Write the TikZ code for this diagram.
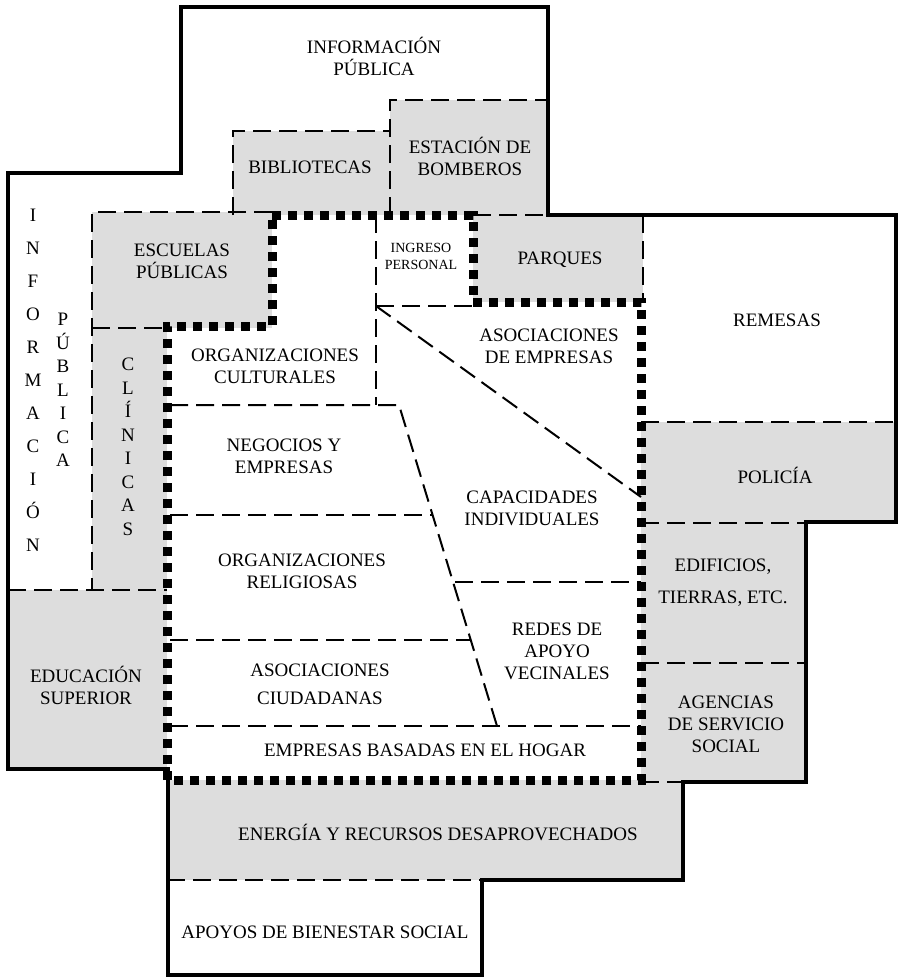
\documentclass[tikz,border=0pt]{standalone}
\usepackage{fontspec}
\setmainfont{Liberation Serif}
\usepackage{tikz}
\definecolor{zonegray}{RGB}{221,221,221}

\begin{document}
\begin{tikzpicture}[x=0.5pt,y=-0.5pt,
    outline/.style={line width=2pt},
    sep/.style={line width=1pt,dash pattern=on 9pt off 4pt},
    core/.style={line width=4.5pt,dash pattern=on 4.5pt off 3.5pt},
    zone/.style={fill=zonegray},
    lbl/.style={font=\fontsize{9.5}{11}\selectfont,align=center,inner sep=0pt},
    vlbl/.style={align=center,inner sep=0pt}]
    \useasboundingbox (0,0) rectangle (898,979);

    % 灰色区域
    \fill[zone] (233,131) rectangle (390,215);
    \fill[zone] (390,100) rectangle (548,215);
    \fill[zone] (92,212) rectangle (272,328);
    \fill[zone] (92,328) rectangle (167,590);
    \fill[zone] (8,590) rectangle (167,769);
    \fill[zone] (473,215) rectangle (643,302);
    \fill[zone] (641,422) rectangle (896,523);
    \fill[zone] (641,523) rectangle (806,782);
    \fill[zone] (167,780) rectangle (683,880);

    % 虚线分隔
    \draw[sep] (233,215) -- (233,131) -- (390,131);
    \draw[sep] (390,215) -- (390,100) -- (548,100);
    \draw[sep] (272,212) -- (92,212) -- (92,590);
    \draw[sep] (92,328) -- (167,328);
    \draw[sep] (8,590) -- (167,590);
    \draw[sep] (376,215) -- (376,405);
    \draw[sep] (376,306) -- (473,306);
    \draw[sep] (473,215) -- (548,215);
    \draw[sep] (643,215) -- (643,302);
    \draw[sep] (641,422) -- (896,422);
    \draw[sep] (641,523) -- (806,523);
    \draw[sep] (641,663) -- (806,663);
    \draw[sep] (641,782) -- (683,782);
    \draw[sep] (167,880) -- (482,880);
    \draw[sep] (170,405) -- (399,405) -- (497,726);
    \draw[sep] (170,515) -- (433,515);
    \draw[sep] (170,640) -- (471,640);
    \draw[sep] (455,582) -- (641,582);
    \draw[sep] (170,726) -- (641,726);
    \draw[sep] (376,306) -- (641,497);

    % 核心边界与外框
    \draw[core] (272,215) -- (473,215) -- (473,302) -- (641,302) -- (641,780)
        -- (167,780) -- (167,326) -- (272,326) -- cycle;
    \draw[outline] (181,7) -- (548,7) -- (548,215) -- (896,215) -- (896,522)
        -- (806,522) -- (806,782) -- (683,782) -- (683,880) -- (482,880)
        -- (482,975) -- (168,975) -- (168,769) -- (8,769) -- (8,173)
        -- (181,173) -- cycle;

    \node[lbl] (infoTop) at (374,56) {INFORMACIÓN\\PÚBLICA};
    \node[lbl] (biblio) at (310,167) {BIBLIOTECAS};
    \node[lbl] (bomberos) at (470,156) {ESTACIÓN DE\\BOMBEROS};
    \node[lbl] (escuelas) at (182,261) {ESCUELAS\\PÚBLICAS};
    \node[lbl,font=\fontsize{7}{8.5}\selectfont] (ingreso) at (421,256) {INGRESO\\PERSONAL};
    \node[lbl] (parques) at (560,260) {PARQUES};
    \node[lbl] (remesas) at (777,320) {REMESAS};
    \node[lbl] (asocEmp) at (549,346) {ASOCIACIONES\\DE EMPRESAS};
    \node[lbl] (orgCult) at (275,366) {ORGANIZACIONES\\CULTURALES};
    \node[lbl] (negocios) at (284,456) {NEGOCIOS Y\\EMPRESAS};
    \node[lbl] (policia) at (775,475) {POLICÍA};
    \node[lbl] (capac) at (532,508) {CAPACIDADES\\INDIVIDUALES};
    \node[lbl] (orgRelig) at (302,571) {ORGANIZACIONES\\RELIGIOSAS};
    \node[lbl] (edificios) at (723,583) {EDIFICIOS,\\[5pt]TIERRAS, ETC.};
    \node[lbl] (redes) at (557,651) {REDES DE\\APOYO\\VECINALES};
    \node[lbl] (asocCiud) at (320,684) {ASOCIACIONES\\[3pt]CIUDADANAS};
    \node[lbl] (eduSup) at (86,685) {EDUCACIÓN\\SUPERIOR};
    \node[lbl] (agencias) at (726,724) {AGENCIAS\\DE SERVICIO\\SOCIAL};
    \node[lbl] (hogar) at (425,750) {EMPRESAS BASADAS EN EL HOGAR};
    \node[lbl] (energia) at (438,832) {ENERGÍA Y RECURSOS DESAPROVECHADOS};
    \node[lbl] (bienestar) at (325,932) {APOYOS DE BIENESTAR SOCIAL};

    \node[vlbl,font=\fontsize{9.5}{16.5}\selectfont] (infoLeft) at (33,380)
        {I\\N\\F\\O\\R\\M\\A\\C\\I\\Ó\\N};
    \node[vlbl,font=\fontsize{9.5}{11.75}\selectfont] (pubLeft) at (63,390)
        {P\\Ú\\B\\L\\I\\C\\A};
    \node[vlbl,font=\fontsize{9.5}{11.75}\selectfont] (clinicas) at (128,447)
        {C\\L\\Í\\N\\I\\C\\A\\S};
\end{tikzpicture}
\end{document}
